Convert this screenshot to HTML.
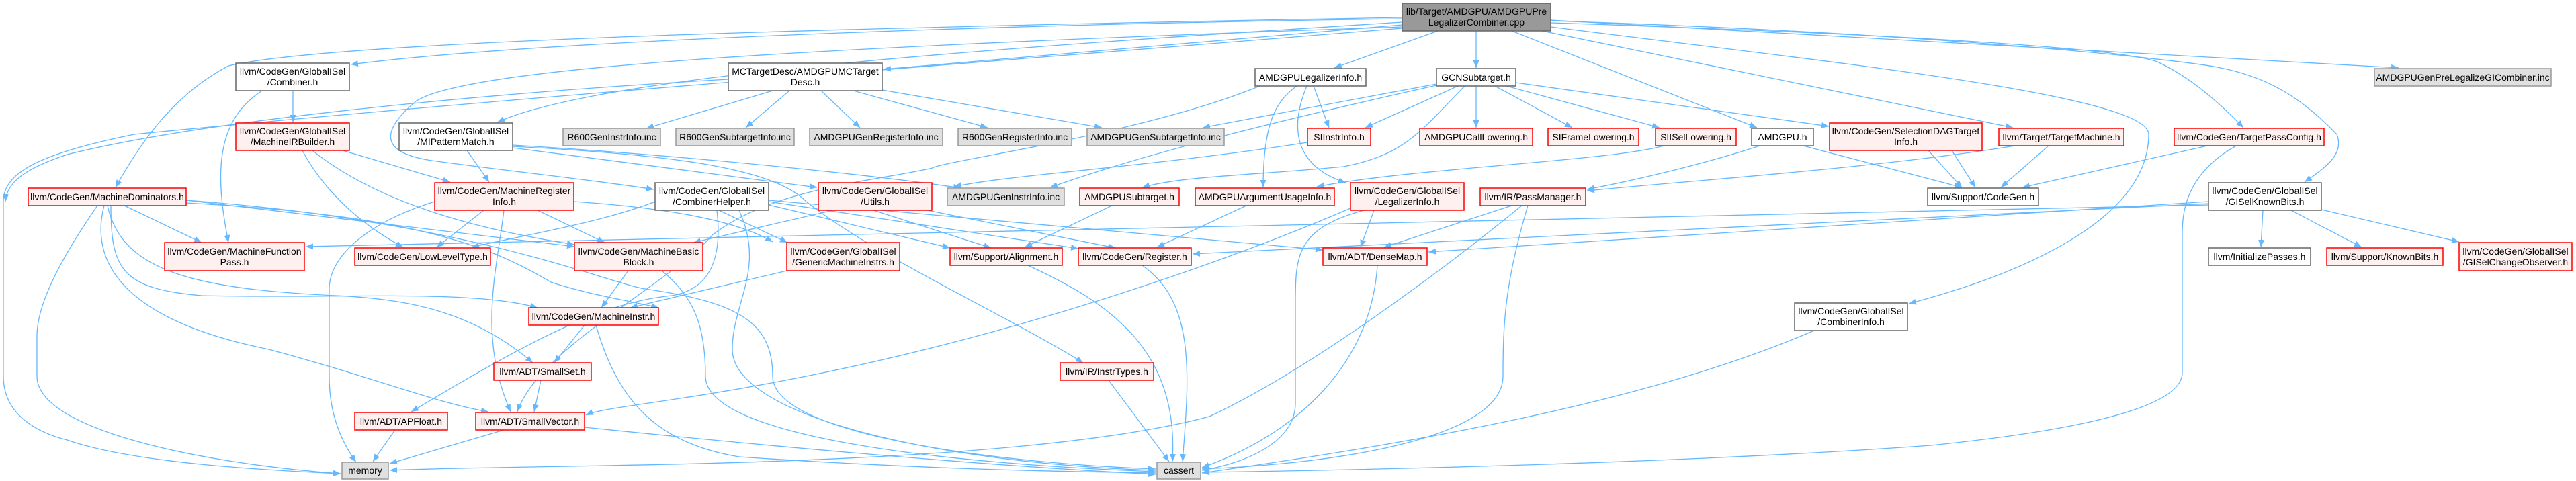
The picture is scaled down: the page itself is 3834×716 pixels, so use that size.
<!DOCTYPE html>
<html><head><meta charset="utf-8"><style>
html,body{margin:0;padding:0;background:#fff;}
svg{display:block;}
text{font-family:"Liberation Sans",Arial,sans-serif;font-size:14px;fill:#000;text-anchor:middle;}
.r{fill:#fff0f0;stroke:#ff0000;stroke-width:1.5;}
.w{fill:#fff;stroke:#666;stroke-width:1.5;}
.g{fill:#e0e0e0;stroke:#999;stroke-width:1.5;}
.root{fill:#999;stroke:#666;stroke-width:1.5;}
.e path{fill:none;stroke:#63b8ff;stroke-width:1.3;marker-end:url(#a);}
</style></head><body>
<svg width="3834" height="716" viewBox="0 0 3834 716" xmlns="http://www.w3.org/2000/svg">
<defs><marker id="a" markerUnits="userSpaceOnUse" markerWidth="12" markerHeight="10" refX="11" refY="4.5" orient="auto"><path d="M0,0 L11,4.5 L0,9 z" fill="#63b8ff"/></marker></defs>
<g class="e">
<!-- root edges -->
<path d="M2087,28 C1500,36 800,60 522,96"/>
<path d="M2087,26 C1300,40 500,60 340,98 C260,140 210,210 172,279"/>
<path d="M2087,37 L1315,103"/>
<path d="M2087,33 C1500,70 900,110 740,182"/>
<path d="M2087,40 C1200,70 700,100 620,150 C560,200 570,230 650,240 C760,255 900,270 973,282"/>
<path d="M2087,42 C1500,90 700,150 200,200 C50,230 5,260 5,300 L5,560 C5,620 60,645 100,655 C200,690 400,700 507,705"/>
<path d="M2140,46 L1986,101"/>
<path d="M2197,46 L2197,101"/>
<path d="M2250,46 L2615,190"/>
<path d="M2295,46 L2996,190"/>
<path d="M2308,40 C2700,90 3198,140 3198,200 C3198,330 3000,410 2841,452"/>
<path d="M2308,34 C2800,50 3150,70 3211,92 C3260,115 3300,150 3339,190"/>
<path d="M2308,31 C2900,50 3250,90 3300,100 C3380,115 3430,150 3478,200 C3490,230 3460,250 3430,271"/>
<path d="M2308,30 L3570,101"/>
<!-- MCTargetDesc -->
<path d="M1150,135 L962,191"/>
<path d="M1175,135 L1110,190"/>
<path d="M1222,135 L1280,190"/>
<path d="M1270,135 L1470,190"/>
<path d="M1313,134 L1640,190"/>
<path d="M1084,118 C700,140 300,180 100,230 C40,250 10,270 8,300"/>
<!-- GCNSubtarget -->
<path d="M2138,125 L1790,190"/>
<path d="M2170,128 L2032,190"/>
<path d="M2197,128 L2197,190"/>
<path d="M2225,128 L2340,190"/>
<path d="M2242,128 L2470,190"/>
<path d="M2256,123 L2722,188"/>
<path d="M2180,128 C2110,200 2090,230 2000,248 C1850,262 1760,262 1700,279"/>
<path d="M2138,127 C1900,180 1700,230 1563,279"/>
<!-- AMDGPULegalizerInfo -->
<path d="M1955,128 L1978,190"/>
<path d="M1930,128 C1900,150 1880,180 1880,279"/>
<path d="M1945,128 C1915,200 1935,250 2003,272"/>
<path d="M1875,128 C1700,200 1400,240 1388,250 C1300,270 1150,280 1060,350 C1000,420 800,520 770,613"/>
<!-- misc mid -->
<path d="M2480,216 C2400,240 2100,250 1960,278"/>
<path d="M2622,216 C2550,240 2450,265 2362,282"/>
<path d="M2680,216 L2920,279"/>
<path d="M2870,224 L2920,279"/>
<path d="M2905,224 L2940,279"/>
<path d="M3005,216 C2800,250 2500,270 2362,284"/>
<path d="M3050,216 L2978,279"/>
<path d="M3290,216 L3010,279"/>
<path d="M3330,216 C3250,260 3248,320 3248,350 L3248,555 C3248,620 3000,650 2874,663 C2500,690 2000,700 1789,703"/>
<path d="M1946,212 C1700,250 1500,260 1420,278"/>
<!-- GISelKnownBits -->
<path d="M3287,300 L2126,375"/>
<path d="M3287,303 L1775,378"/>
<path d="M3287,305 L455,367"/>
<path d="M3368,313 L3365,368"/>
<path d="M3410,313 L3515,368"/>
<path d="M3455,312 L3660,360"/>
<!-- PassManager -->
<path d="M2250,306 L2060,368"/>
<path d="M2265,306 C2150,400 1950,550 1800,620 C1500,700 800,690 580,700"/>
<path d="M2274,306 C2240,420 2237,480 2237,560 C2237,650 2000,690 1789,698"/>
<!-- LegalizerInfo -->
<path d="M2045,313 L2025,368"/>
<path d="M2030,313 C1930,340 1928,380 1928,450 L1928,600 C1928,660 1850,690 1789,700"/>
<path d="M2010,310 C1800,400 1500,500 1200,560 C1000,600 900,605 872,618"/>
<!-- CombinerInfo -->
<path d="M2700,492 C2450,600 2100,660 1789,704"/>
<!-- CombinerHelper -->
<path d="M1070,313 L1172,361"/>
<path d="M1144,305 L1414,369"/>
<path d="M1144,300 L1605,370"/>
<path d="M1144,298 L1969,372"/>
<path d="M975,300 C900,330 780,350 702,368"/>
<path d="M1067,313 C1075,380 1060,430 1000,440 C900,450 800,500 612,613"/>
<path d="M1100,313 C1140,400 1090,450 1090,520 C1090,620 1400,690 1720,700"/>
<!-- MIPatternMatch -->
<path d="M695,224 L728,271"/>
<path d="M763,220 L1216,279"/>
<path d="M763,218 C1000,230 1150,250 1200,300 C1300,380 1500,470 1612,540"/>
<path d="M763,216 C1000,230 1300,260 1430,280"/>
<!-- Utils -->
<path d="M1300,313 L1475,369"/>
<path d="M1380,313 L1660,369"/>
<path d="M1240,313 L1032,361"/>
<!-- Combiner.h -->
<path d="M436,135 L436,182"/>
<path d="M390,135 C320,180 320,260 340,361"/>
<!-- MachineIRBuilder -->
<path d="M510,224 L670,271"/>
<path d="M450,224 C480,280 530,330 600,368"/>
<path d="M465,224 C560,300 700,340 855,364"/>
<!-- MachineDominators -->
<path d="M185,306 L300,361"/>
<path d="M277,298 L855,367"/>
<path d="M277,302 C600,320 720,360 820,420 C880,440 950,450 980,458"/>
<path d="M165,306 C165,400 180,430 300,440 C500,445 700,430 800,458"/>
<path d="M160,306 C180,400 280,430 500,440 C600,445 700,460 793,540"/>
<path d="M155,306 C130,400 200,480 400,520 C550,560 650,600 727,613"/>
<path d="M145,306 C80,400 55,460 55,500 L55,560 C55,640 300,690 507,705"/>
<path d="M277,298 C700,330 900,420 960,430 C1100,450 1150,480 1150,560 C1150,650 1500,690 1720,698"/>
<!-- MachineRegisterInfo -->
<path d="M720,313 L650,368"/>
<path d="M800,313 L900,361"/>
<path d="M750,313 C740,400 710,500 760,613"/>
<path d="M647,300 C550,330 490,380 490,430 L490,560 C490,620 510,660 530,688"/>
<path d="M854,300 C1000,310 1100,330 1150,360"/>
<!-- MachineBasicBlock -->
<path d="M935,403 L895,458"/>
<path d="M985,403 C1030,440 1050,480 1050,560 C1050,650 1400,690 1720,702"/>
<!-- GenericMachineInstrs -->
<path d="M1171,403 L938,458"/>
<!-- MachineInstr -->
<path d="M870,484 L825,540"/>
<path d="M887,484 C920,600 980,660 1100,680 C1400,700 1600,702 1720,704"/>
<!-- SmallSet -->
<path d="M805,566 L795,613"/>
<!-- APFloat / SmallVector -->
<path d="M588,640 L555,687"/>
<path d="M750,640 L580,690"/>
<path d="M870,636 C1200,670 1500,695 1720,706"/>
<!-- to cassert -->
<path d="M1530,395 C1650,450 1755,520 1745,687"/>
<path d="M1700,395 C1780,450 1770,560 1760,687"/>
<path d="M1650,566 L1740,687"/>
<path d="M2050,395 C2040,550 1920,650 1789,696"/>
<path d="M1655,306 L1525,368"/>
<path d="M1855,306 L1722,368"/>
</g>
<!-- nodes -->
<g>
<rect class="root" x="2087" y="5" width="221" height="41"/><text x="2197.5" y="22">lib/Target/AMDGPU/AMDGPUPre</text><text x="2197.5" y="38">LegalizerCombiner.cpp</text>
<rect class="w" x="351" y="94" width="169" height="41"/><text x="435.5" y="111">llvm/CodeGen/GlobalISel</text><text x="435.5" y="127">/Combiner.h</text>
<rect class="w" x="1084" y="94" width="229" height="41"/><text x="1198.5" y="111">MCTargetDesc/AMDGPUMCTarget</text><text x="1198.5" y="127">Desc.h</text>
<rect class="w" x="1868" y="102" width="165" height="26"/><text x="1950.5" y="120">AMDGPULegalizerInfo.h</text>
<rect class="w" x="2138" y="102" width="118" height="26"/><text x="2197" y="120">GCNSubtarget.h</text>
<rect class="g" x="3534" y="102" width="263" height="26"/><text x="3665.5" y="120">AMDGPUGenPreLegalizeGICombiner.inc</text>
<rect class="r" x="351" y="183" width="169" height="41"/><text x="435.5" y="200">llvm/CodeGen/GlobalISel</text><text x="435.5" y="216">/MachineIRBuilder.h</text>
<rect class="w" x="594" y="183" width="169" height="41"/><text x="678.5" y="200">llvm/CodeGen/GlobalISel</text><text x="678.5" y="216">/MIPatternMatch.h</text>
<rect class="g" x="838" y="191" width="145" height="26"/><text x="910.5" y="209">R600GenInstrInfo.inc</text>
<rect class="g" x="1006" y="191" width="176" height="26"/><text x="1094" y="209">R600GenSubtargetInfo.inc</text>
<rect class="g" x="1205" y="191" width="198" height="26"/><text x="1304" y="209">AMDGPUGenRegisterInfo.inc</text>
<rect class="g" x="1426" y="191" width="169" height="26"/><text x="1510.5" y="209">R600GenRegisterInfo.inc</text>
<rect class="g" x="1618" y="191" width="204" height="26"/><text x="1720" y="209">AMDGPUGenSubtargetInfo.inc</text>
<rect class="r" x="1946" y="191" width="94" height="26"/><text x="1993" y="209">SIInstrInfo.h</text>
<rect class="r" x="2113" y="191" width="168" height="26"/><text x="2197" y="209">AMDGPUCallLowering.h</text>
<rect class="r" x="2304" y="191" width="135" height="26"/><text x="2371.5" y="209">SIFrameLowering.h</text>
<rect class="r" x="2464" y="191" width="120" height="26"/><text x="2524" y="209">SIISelLowering.h</text>
<rect class="w" x="2607" y="191" width="92" height="26"/><text x="2653" y="209">AMDGPU.h</text>
<rect class="r" x="2723" y="183" width="227" height="41"/><text x="2836.5" y="200">llvm/CodeGen/SelectionDAGTarget</text><text x="2836.5" y="216">Info.h</text>
<rect class="r" x="2975" y="191" width="186" height="26"/><text x="3068" y="209">llvm/Target/TargetMachine.h</text>
<rect class="r" x="3236" y="191" width="223" height="26"/><text x="3347.5" y="209">llvm/CodeGen/TargetPassConfig.h</text>
<rect class="r" x="42" y="280" width="235" height="26"/><text x="159.5" y="298">llvm/CodeGen/MachineDominators.h</text>
<rect class="r" x="647" y="272" width="207" height="41"/><text x="750.5" y="289">llvm/CodeGen/MachineRegister</text><text x="750.5" y="305">Info.h</text>
<rect class="w" x="975" y="272" width="169" height="41"/><text x="1059.5" y="289">llvm/CodeGen/GlobalISel</text><text x="1059.5" y="305">/CombinerHelper.h</text>
<rect class="r" x="1218" y="272" width="169" height="41"/><text x="1302.5" y="289">llvm/CodeGen/GlobalISel</text><text x="1302.5" y="305">/Utils.h</text>
<rect class="g" x="1410" y="280" width="174" height="26"/><text x="1497" y="298">AMDGPUGenInstrInfo.inc</text>
<rect class="r" x="1607" y="280" width="148" height="26"/><text x="1681" y="298">AMDGPUSubtarget.h</text>
<rect class="r" x="1779" y="280" width="207" height="26"/><text x="1882.5" y="298">AMDGPUArgumentUsageInfo.h</text>
<rect class="r" x="2010" y="272" width="169" height="41"/><text x="2094.5" y="289">llvm/CodeGen/GlobalISel</text><text x="2094.5" y="305">/LegalizerInfo.h</text>
<rect class="r" x="2203" y="280" width="157" height="26"/><text x="2281.5" y="298">llvm/IR/PassManager.h</text>
<rect class="w" x="2869" y="280" width="165" height="26"/><text x="2951.5" y="298">llvm/Support/CodeGen.h</text>
<rect class="w" x="3287" y="272" width="168" height="41"/><text x="3371" y="289">llvm/CodeGen/GlobalISel</text><text x="3371" y="305">/GISelKnownBits.h</text>
<rect class="r" x="245" y="361" width="208" height="42"/><text x="349" y="379">llvm/CodeGen/MachineFunction</text><text x="349" y="395">Pass.h</text>
<rect class="r" x="528" y="369" width="202" height="26"/><text x="629" y="387">llvm/CodeGen/LowLevelType.h</text>
<rect class="r" x="855" y="361" width="191" height="42"/><text x="950.5" y="379">llvm/CodeGen/MachineBasic</text><text x="950.5" y="395">Block.h</text>
<rect class="r" x="1171" y="361" width="168" height="42"/><text x="1255" y="379">llvm/CodeGen/GlobalISel</text><text x="1255" y="395">/GenericMachineInstrs.h</text>
<rect class="r" x="1414" y="369" width="167" height="26"/><text x="1497.5" y="387">llvm/Support/Alignment.h</text>
<rect class="r" x="1605" y="369" width="168" height="26"/><text x="1689" y="387">llvm/CodeGen/Register.h</text>
<rect class="r" x="1969" y="369" width="155" height="26"/><text x="2046.5" y="387">llvm/ADT/DenseMap.h</text>
<rect class="w" x="3287" y="369" width="152" height="26"/><text x="3363" y="387">llvm/InitializePasses.h</text>
<rect class="r" x="3463" y="369" width="173" height="26"/><text x="3549.5" y="387">llvm/Support/KnownBits.h</text>
<rect class="r" x="3660" y="361" width="168" height="42"/><text x="3744" y="379">llvm/CodeGen/GlobalISel</text><text x="3744" y="395">/GISelChangeObserver.h</text>
<rect class="w" x="2671" y="451" width="168" height="41"/><text x="2755" y="468">llvm/CodeGen/GlobalISel</text><text x="2755" y="484">/CombinerInfo.h</text>
<rect class="r" x="787" y="458" width="193" height="26"/><text x="883.5" y="476">llvm/CodeGen/MachineInstr.h</text>
<rect class="r" x="735" y="540" width="145" height="26"/><text x="807.5" y="558">llvm/ADT/SmallSet.h</text>
<rect class="r" x="1578" y="540" width="139" height="26"/><text x="1647.5" y="558">llvm/IR/InstrTypes.h</text>
<rect class="r" x="528" y="614" width="138" height="26"/><text x="597" y="632">llvm/ADT/APFloat.h</text>
<rect class="r" x="708" y="614" width="162" height="26"/><text x="789" y="632">llvm/ADT/SmallVector.h</text>
<rect class="g" x="509" y="688" width="69" height="25"/><text x="543.5" y="705">memory</text>
<rect class="g" x="1722" y="688" width="65" height="25"/><text x="1754.5" y="705">cassert</text>
</g>
</svg>
</body></html>
